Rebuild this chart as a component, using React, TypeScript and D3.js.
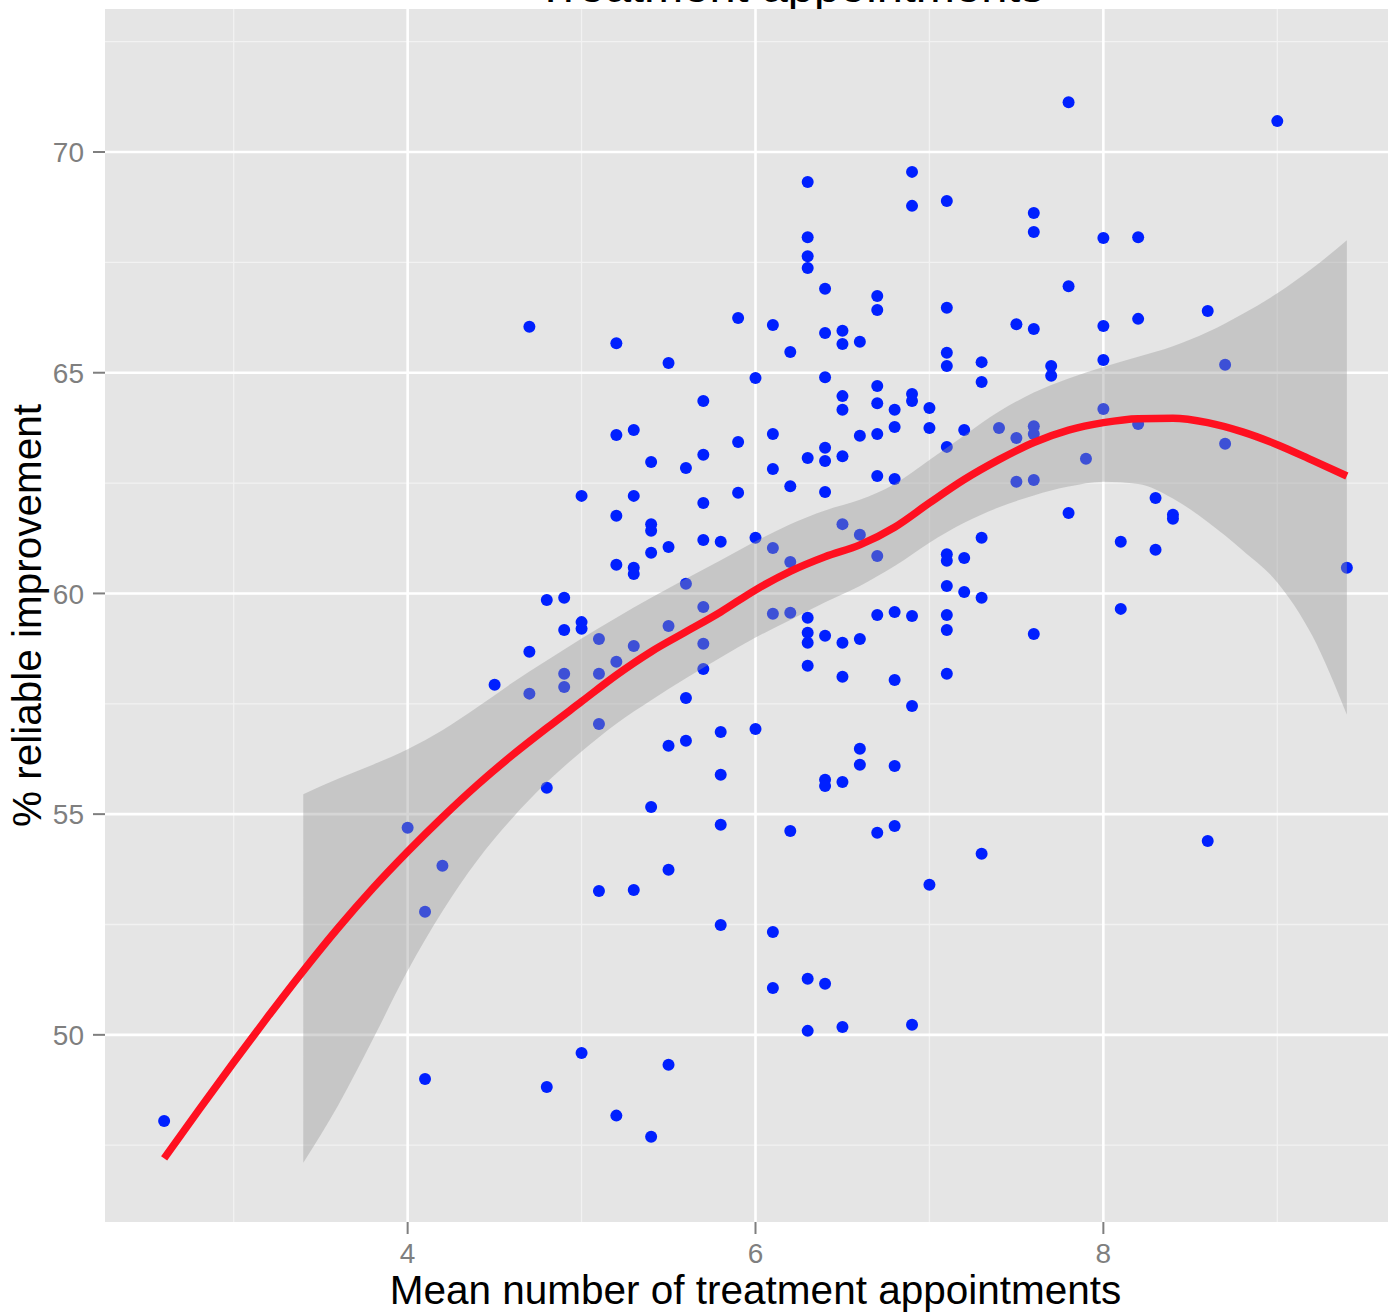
import React from "react";
import * as d3 from "d3";

// ---- Data ----
const meanAppointments = [
  2.6,
  4.0,
  4.1, 4.1,
  4.2,
  4.5,
  4.7, 4.7, 4.7,
  4.8, 4.8, 4.8,
  4.9, 4.9, 4.9, 4.9,
  5.0, 5.0, 5.0, 5.0,
  5.1, 5.1, 5.1, 5.1,
  5.2, 5.2, 5.2, 5.2, 5.2, 5.2,
  5.3, 5.3, 5.3, 5.3, 5.3, 5.3,
  5.4, 5.4, 5.4, 5.4, 5.4, 5.4,
  5.5, 5.5, 5.5, 5.5, 5.5, 5.5,
  5.6, 5.6, 5.6, 5.6,
  5.7, 5.7, 5.7, 5.7, 5.7, 5.7, 5.7,
  5.8, 5.8, 5.8, 5.8, 5.8,
  5.9, 5.9, 5.9,
  6.0, 6.0, 6.0,
  6.1, 6.1, 6.1, 6.1, 6.1, 6.1, 6.1,
  6.2, 6.2, 6.2, 6.2, 6.2,
  6.3, 6.3, 6.3, 6.3, 6.3, 6.3, 6.3, 6.3, 6.3, 6.3, 6.3,
  6.4, 6.4, 6.4, 6.4, 6.4, 6.4, 6.4, 6.4, 6.4, 6.4,
  6.5, 6.5, 6.5, 6.5, 6.5, 6.5, 6.5, 6.5, 6.5, 6.5,
  6.6, 6.6, 6.6, 6.6, 6.6, 6.6,
  6.7, 6.7, 6.7, 6.7, 6.7, 6.7, 6.7, 6.7, 6.7,
  6.8, 6.8, 6.8, 6.8, 6.8, 6.8, 6.8,
  6.9, 6.9, 6.9, 6.9, 6.9, 6.9, 6.9,
  7.0, 7.0, 7.0,
  7.1, 7.1, 7.1, 7.1, 7.1, 7.1, 7.1, 7.1, 7.1, 7.1, 7.1,
  7.2, 7.2, 7.2,
  7.3, 7.3, 7.3, 7.3, 7.3,
  7.4,
  7.5, 7.5, 7.5,
  7.6, 7.6, 7.6, 7.6, 7.6, 7.6, 7.6,
  7.7, 7.7,
  7.8, 7.8, 7.8,
  7.9,
  8.0, 8.0, 8.0, 8.0,
  8.1, 8.1,
  8.2, 8.2, 8.2,
  8.3, 8.3,
  8.4, 8.4,
  8.6, 8.6,
  8.7, 8.7,
  9.0,
  9.4,
];

const reliableImprovement = [
  48.05,
  54.69,
  52.79, 49.0,
  53.83,
  57.93,
  66.04, 58.68, 57.73,
  55.6, 59.85, 48.82,
  59.9, 59.17, 58.18, 57.88,
  62.21, 59.35, 59.2, 49.59,
  58.97, 58.18, 57.04, 53.26,
  65.67, 63.59, 61.76, 60.65, 58.45, 48.17,
  63.7, 62.21, 60.58, 60.44, 58.81, 53.28,
  62.98, 61.57, 61.42, 60.92, 55.16, 47.69,
  65.22, 61.05, 59.26, 56.55, 53.74, 49.32,
  62.84, 60.22, 57.63, 56.66,
  64.36, 63.14, 62.05, 61.21, 59.69, 58.86, 58.29,
  61.17, 56.86, 55.89, 54.76, 52.49,
  66.24, 63.43, 62.28,
  64.88, 61.26, 56.93,
  66.08, 63.61, 62.82, 61.03, 59.54, 52.33, 51.06,
  65.47, 62.43, 60.71, 59.56, 54.62,
  69.32, 68.07, 67.64, 67.37, 63.07, 59.45, 59.11, 58.88, 58.36, 51.27, 50.09,
  66.9, 65.9, 64.9, 63.3, 63.0, 62.3, 59.04, 55.78, 55.64, 51.16,
  65.95, 65.65, 64.47, 64.16, 63.11, 61.57, 58.88, 58.11, 55.73, 50.18,
  65.7, 63.57, 61.33, 58.97, 56.48, 56.12,
  66.74, 66.42, 64.7, 64.31, 63.61, 62.66, 60.85, 59.51, 54.58,
  64.16, 63.77, 62.59, 59.58, 58.04, 56.09, 54.73,
  69.55, 68.78, 64.52, 64.36, 59.49, 57.45, 50.23,
  64.2, 63.75, 53.4,
  68.89, 66.47, 65.45, 65.15, 63.32, 60.89, 60.74, 60.17, 59.51, 59.17, 58.18,
  63.7, 60.8, 60.03,
  65.24, 64.79, 61.26, 59.9, 54.1,
  63.75,
  66.1, 63.52, 62.53,
  68.62, 68.19, 65.99, 63.79, 63.61, 62.57, 59.08,
  65.15, 64.93,
  71.13, 66.96, 61.82,
  63.05,
  68.05, 66.06, 65.29, 64.18,
  61.17, 59.65,
  68.07, 66.22, 63.84,
  62.16, 60.99,
  61.78, 61.69,
  66.4, 54.39,
  65.18, 63.39,
  70.7,
  60.58,
];

// Smoothed (loess) fit
const smoothX = [2.6, 2.8, 3.0, 3.2, 3.4, 3.6, 3.8, 4.0, 4.2, 4.4, 4.6, 4.8, 5.0, 5.2, 5.4, 5.6, 5.8, 6.0, 6.2, 6.4, 6.6, 6.8, 7.0, 7.2, 7.4, 7.6, 7.8, 8.0, 8.2, 8.4, 8.6, 8.8, 9.0, 9.2, 9.4];
const smoothFit = [47.2, 48.3, 49.38, 50.43, 51.45, 52.42, 53.32, 54.15, 54.93, 55.66, 56.33, 56.95, 57.55, 58.15, 58.68, 59.13, 59.58, 60.08, 60.5, 60.83, 61.1, 61.5, 62.05, 62.58, 63.03, 63.42, 63.7, 63.87, 63.96, 63.97, 63.87, 63.66, 63.37, 63.02, 62.66];

// Confidence band
const ribbonX = [3.4, 3.6, 3.8, 4.0, 4.2, 4.4, 4.6, 4.8, 5.0, 5.2, 5.4, 5.6, 5.8, 6.0, 6.2, 6.4, 6.6, 6.8, 7.0, 7.2, 7.4, 7.6, 7.8, 8.0, 8.2, 8.4, 8.6, 8.8, 9.0, 9.2, 9.4];
const ribbonUpper = [55.45, 55.8, 56.12, 56.47, 56.9, 57.42, 57.97, 58.48, 58.98, 59.45, 59.9, 60.33, 60.75, 61.18, 61.57, 61.88, 62.12, 62.48, 63.02, 63.58, 64.12, 64.55, 64.87, 65.13, 65.36, 65.6, 65.92, 66.33, 66.8, 67.36, 68.0];
const ribbonLower = [47.1, 48.4, 49.9, 51.45, 52.8, 53.95, 54.9, 55.72, 56.42, 57.05, 57.58, 58.08, 58.55, 59.0, 59.4, 59.8, 60.17, 60.62, 61.15, 61.6, 61.95, 62.22, 62.42, 62.53, 62.48, 62.15, 61.62, 60.98, 60.25, 59.05, 57.25];

const xMajor = [4, 6, 8];
const xMinor = [3, 5, 7, 9];
const yMajor = [50, 55, 60, 65, 70];
const yMinor = [47.5, 52.5, 57.5, 62.5, 67.5, 72.5];

const titleText = "Treatment appointments";
const xTitle = "Mean number of treatment appointments";
const yTitle = "% reliable improvement";

const FONT = "'Liberation Sans', Arial, Helvetica, sans-serif";

export default function App() {
  const W = 1388;
  const H = 1312;
  const P = { left: 105, right: 1406, top: 9, bottom: 1222 };

  const x = d3.scaleLinear().domain([2.26, 9.74]).range([P.left, P.right]);
  const y = d3.scaleLinear().domain([45.76, 73.24]).range([P.bottom, P.top]);

  const fitPts: [number, number][] = smoothX.map((v, i) => [v, smoothFit[i]]);
  const line = d3
    .line<[number, number]>()
    .x((d) => x(d[0]))
    .y((d) => y(d[1]))
    .curve(d3.curveMonotoneX);

  const ribbonPts = ribbonX.map((v, i) => ({ x: v, lo: ribbonLower[i], hi: ribbonUpper[i] }));
  const area = d3
    .area<{ x: number; lo: number; hi: number }>()
    .x((d) => x(d.x))
    .y0((d) => y(d.lo))
    .y1((d) => y(d.hi))
    .curve(d3.curveMonotoneX);

  const points = meanAppointments.map((v, i) => [v, reliableImprovement[i]]);

  return (
    <div style={{ position: "absolute", left: 0, top: 0 }}>
      <svg width={W} height={H} style={{ display: "block", background: "#ffffff" }} fontFamily={FONT}>
        <defs>
          <clipPath id="panelClip">
            <rect x={P.left} y={P.top} width={P.right - P.left} height={P.bottom - P.top} />
          </clipPath>
        </defs>

        {/* title (mostly cut off at top, as in the reference) */}
        <text x={790} y={2} textAnchor="middle" fontSize={47} fill="#000">
          {titleText}
        </text>

        {/* panel */}
        <rect x={P.left} y={P.top} width={P.right - P.left} height={P.bottom - P.top} fill="#e5e5e5" />

        {/* minor grid */}
        {xMinor.map((v) => (
          <line key={"xm" + v} x1={x(v)} x2={x(v)} y1={P.top} y2={P.bottom} stroke="#f2f2f2" strokeWidth={1.3} />
        ))}
        {yMinor.map((v) => (
          <line key={"ym" + v} x1={P.left} x2={P.right} y1={y(v)} y2={y(v)} stroke="#f2f2f2" strokeWidth={1.3} />
        ))}
        {/* major grid */}
        {xMajor.map((v) => (
          <line key={"xM" + v} x1={x(v)} x2={x(v)} y1={P.top} y2={P.bottom} stroke="#ffffff" strokeWidth={2.6} />
        ))}
        {yMajor.map((v) => (
          <line key={"yM" + v} x1={P.left} x2={P.right} y1={y(v)} y2={y(v)} stroke="#ffffff" strokeWidth={2.6} />
        ))}

        <g clipPath="url(#panelClip)">
          {/* points */}
          {points.map((d, i) => (
            <circle key={i} cx={x(d[0])} cy={y(d[1])} r={6} fill="#0020ff" />
          ))}
          {/* confidence ribbon */}
          <path d={area(ribbonPts) || ""} fill="#999999" fillOpacity={0.4} />
          {/* smooth line */}
          <path d={line(fitPts) || ""} fill="none" stroke="#ff1020" strokeWidth={7.5} strokeLinecap="butt" />
        </g>

        {/* y axis ticks and labels */}
        {yMajor.map((v) => (
          <g key={"yt" + v}>
            <line x1={P.left - 12} x2={P.left} y1={y(v)} y2={y(v)} stroke="#7f7f7f" strokeWidth={2} />
            <text x={P.left - 21} y={y(v)} dy="0.36em" textAnchor="end" fontSize={28} fill="#7f7f7f">
              {v}
            </text>
          </g>
        ))}

        {/* x axis ticks and labels */}
        {xMajor.map((v) => (
          <g key={"xt" + v}>
            <line x1={x(v)} x2={x(v)} y1={P.bottom} y2={P.bottom + 12} stroke="#7f7f7f" strokeWidth={2} />
            <text x={x(v)} y={P.bottom + 41} textAnchor="middle" fontSize={28} fill="#7f7f7f">
              {v}
            </text>
          </g>
        ))}

        {/* axis titles */}
        <text x={(P.left + P.right) / 2} y={1304} textAnchor="middle" fontSize={40.5} fill="#000">
          {xTitle}
        </text>
        <text
          transform={`translate(41, ${(P.top + P.bottom) / 2}) rotate(-90)`}
          textAnchor="middle"
          fontSize={40.5}
          fill="#000"
        >
          {yTitle}
        </text>
      </svg>
    </div>
  );
}
